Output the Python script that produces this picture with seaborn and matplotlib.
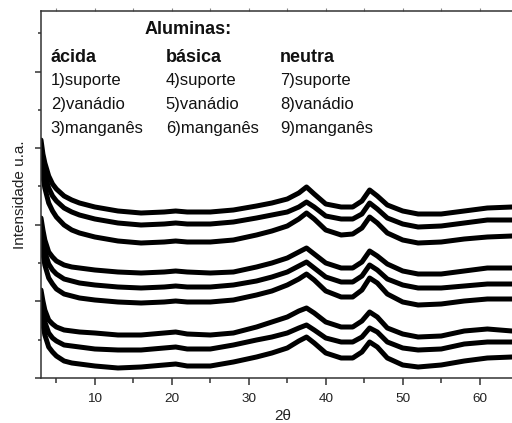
import numpy as np
import pandas as pd
import seaborn as sns
import matplotlib
matplotlib.use("Agg")
import matplotlib.pyplot as plt
from matplotlib.ticker import MultipleLocator

sns.set_theme(style="white")
plt.rcParams['font.family'] = ['Liberation Sans', 'DejaVu Sans']

two_theta = [3, 3.25, 3.5, 4, 4.5, 5, 6, 7, 8, 10, 13, 16, 19, 20.5, 22, 25, 28, 31, 33, 35,
             36.5, 37.5, 38.5, 40, 42, 43.5, 44.7, 45.7, 46.7, 48, 50, 52, 55, 58, 61, 64.2]

curve1 = [238, 224, 215, 202, 194, 189, 182, 178, 175, 171, 167, 165, 166, 167, 166, 166, 168, 172, 175, 179,
          185, 191, 184, 174, 171, 171, 177, 188, 182, 173, 167, 164, 164, 167, 170, 171]
curve2 = [228, 214, 203, 190, 182, 177, 170, 166, 163, 159, 155, 153, 154, 155, 154, 154, 156, 160, 163, 166,
          171, 176, 171, 162, 159, 159, 164, 175, 169, 160, 154, 151, 152, 155, 158, 158]
curve3 = [218, 202, 190, 175, 167, 161, 153, 148, 145, 141, 137, 135, 136, 137, 136, 136, 138, 143, 147, 152,
          159, 165, 159, 148, 143, 144, 150, 161, 155, 145, 138, 135, 136, 139, 141, 142]
curve4 = [160, 148, 138, 126, 121, 117, 113, 111, 110, 108, 106, 105, 106, 107, 106, 105, 106, 111, 115, 120,
          126, 130, 124, 115, 110, 110, 116, 127, 122, 114, 107, 104, 104, 107, 110, 110]
curve5 = [150, 137, 126, 114, 108, 104, 99, 97, 95, 93, 91, 90, 91, 92, 91, 91, 93, 97, 101, 106,
          112, 116, 110, 101, 96, 96, 102, 113, 108, 99, 93, 90, 90, 92, 94, 94]
curve6 = [140, 125, 113, 100, 94, 89, 84, 82, 80, 78, 76, 75, 76, 77, 76, 76, 78, 83, 87, 93,
          99, 104, 98, 87, 81, 81, 88, 100, 95, 84, 76, 73, 74, 77, 79, 79]
curve7 = [88, 77, 68, 58, 54, 51, 48, 47, 46, 45, 43, 43, 45, 46, 44, 43, 45, 51, 56, 61,
          67, 70, 65, 56, 51, 51, 57, 66, 61, 50, 44, 41, 42, 47, 49, 47]
curve8 = [78, 66, 56, 45, 40, 37, 33, 32, 31, 29, 28, 28, 30, 31, 29, 29, 33, 38, 41, 45,
          50, 53, 48, 40, 36, 36, 41, 50, 46, 36, 30, 28, 29, 34, 36, 36]
curve9 = [68, 54, 43, 31, 26, 22, 17, 15, 14, 12, 10, 11, 13, 14, 12, 12, 16, 21, 25, 30,
          37, 41, 35, 25, 20, 20, 26, 36, 31, 20, 13, 11, 13, 17, 20, 21]

curves = [curve1, curve2, curve3, curve4, curve5, curve6, curve7, curve8, curve9]
names = ["1", "2", "3", "4", "5", "6", "7", "8", "9"]

title_text = "Aluminas:"
groups = ["ácida", "básica", "neutra"]
samples = ["1)suporte", "2)vanádio", "3)manganês",
           "4)suporte", "5)vanádio", "6)manganês",
           "7)suporte", "8)vanádio", "9)manganês"]

df = pd.concat([pd.DataFrame({"x": two_theta, "y": c, "curve": n})
                for c, n in zip(curves, names)], ignore_index=True)

fig = plt.figure(figsize=(5.12, 4.23), dpi=100)
ax = fig.add_axes([41/512, 45/423, 1 - 41/512, 367/423])

sns.lineplot(data=df, x="x", y="y", units="curve", estimator=None,
             color="black", linewidth=3.6, ax=ax, legend=False)

ax.set_xlim(3, 64.2)
ax.set_ylim(0, 367)

for side in ["left", "bottom", "top"]:
    ax.spines[side].set_visible(True)
    ax.spines[side].set_color("#333333")
    ax.spines[side].set_linewidth(1.1)
ax.spines["right"].set_visible(False)

ax.xaxis.set_major_locator(MultipleLocator(10))
ax.xaxis.set_minor_locator(MultipleLocator(5))
ax.yaxis.set_major_locator(MultipleLocator(76.6))
ax.yaxis.set_minor_locator(MultipleLocator(38.3))
ax.tick_params(axis="x", which="major", direction="out", length=5, width=1.1,
               color="#333333", labelsize=9.7, labelcolor="#222222", bottom=True, pad=6)
ax.tick_params(axis="x", which="minor", direction="out", length=3.5, width=1.1,
               color="#333333", bottom=True)
ax.tick_params(axis="y", which="major", direction="out", length=4.5, width=1.1,
               color="#333333", left=True, labelleft=False)
ax.tick_params(axis="y", which="minor", direction="out", length=2.5, width=1.1,
               color="#333333", left=True)

sec = ax.secondary_xaxis("top")
sec.xaxis.set_major_locator(MultipleLocator(5))
sec.tick_params(direction="out", length=2, width=0.8, color="#888888", labeltop=False)
sec.spines["top"].set_visible(False)

ax.set_xlabel("2θ", fontsize=11, color="#222222")
ax.xaxis.set_label_coords((283 - 41) / 471, -0.084)
ax.set_ylabel("Intensidade u.a.", fontsize=11, color="#222222")
ax.yaxis.set_label_coords(-0.029, 0.5)

def ax_xy(px, py):
    return (px - 41) / 471, (378 - py) / 367

ax.text(*ax_xy(145, 34), title_text, transform=ax.transAxes, fontsize=13,
        fontweight="bold", va="baseline", ha="left", color="#111111")
cols = [50.7, 165.7, 280]
rows = [85.3, 109.5, 133.3]
for i, g in enumerate(groups):
    ax.text(*ax_xy(cols[i], 61.7), g, transform=ax.transAxes, fontsize=13,
            fontweight="bold", va="baseline", ha="left", color="#111111")
    for j in range(3):
        ax.text(*ax_xy(cols[i], rows[j]), samples[3 * i + j], transform=ax.transAxes,
                fontsize=12, va="baseline", ha="left", color="#111111")

fig.savefig("out.png", dpi=100)
